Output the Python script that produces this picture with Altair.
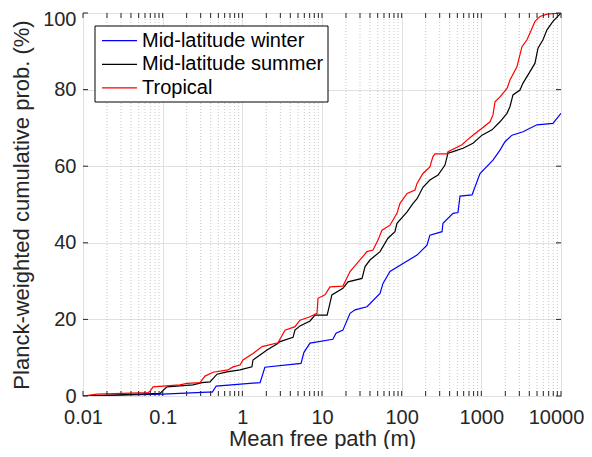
import altair as alt
import pandas as pd

series = ["Mid-latitude winter", "Mid-latitude summer", "Tropical"]
colors = ["#0000ff", "#000000", "#ff0000"]

winter_x = [0.01, 0.1, 0.37, 0.42, 0.47, 1.67, 1.92, 5.45, 5.94, 7.07, 13.7, 15.0, 18.3,
            22.5, 26.0, 36.7, 53.5, 58.3, 71.3, 104, 156, 208, 226, 321, 330, 441, 509,
            540, 764, 962, 1400, 1715, 1982, 2427, 3334, 4990, 7925, 10000]
winter_y = [0, 0.5, 1.0, 1.0, 2.6, 3.5, 7.5, 8.5, 11.4, 13.8, 14.8, 16.4, 17.2,
            21.6, 22.5, 23.3, 26.8, 29.4, 32.5, 34.6, 36.8, 39.4, 42.0, 42.9, 45.1, 47.7, 47.9,
            52.2, 52.5, 58.1, 61.6, 64.2, 66.4, 68.1, 69.0, 70.8, 71.2, 73.8]

summer_x = [0.01, 0.0926, 0.113, 0.24, 0.312, 0.393, 0.481, 0.641, 0.935, 1.32, 1.36, 1.77,
            2.04, 2.72, 2.97, 4.33, 4.58, 5.30, 7.07, 8.17, 11.6, 12.2, 13.3, 18.3, 21.2,
            31.8, 34.7, 40.0, 53.5, 67.3, 82.4, 87.3, 117, 139, 156, 185, 226, 286, 350,
            381, 441, 589, 785, 1019, 1361, 1715, 2099, 2291, 2495, 3055, 3334, 4083, 4714,
            5143, 5940, 6668, 7925, 9707, 10000]
summer_y = [0, 0.7, 2.4, 2.9, 3.5, 3.7, 5.7, 6.3, 6.8, 7.6, 9.4, 11.1,
            12.0, 13.6, 14.2, 15.3, 17.2, 18.3, 19.6, 21.1, 21.1, 23.0, 26.4, 28.1, 29.8,
            30.7, 33.8, 35.5, 37.7, 41.2, 42.9, 45.1, 48.1, 50.3, 51.5, 54.5, 56.4, 57.7, 60.3,
            63.4, 63.8, 64.7, 66.0, 68.1, 69.5, 71.6, 73.8, 75.6, 78.6, 79.9, 81.7, 84.7, 86.9,
            90.8, 93.0, 95.6, 97.8, 99.7, 100]

tropical_x = [0.01, 0.015, 0.0655, 0.0693, 0.0757, 0.165, 0.202, 0.294, 0.34, 0.429, 0.661,
              0.764, 0.935, 1.02, 1.36, 1.77, 2.80, 3.43, 4.58, 5.30, 7.07, 8.65, 8.91, 10.9,
              12.6, 18.3, 22.5, 27.5, 36.7, 43.7, 50.5, 56.6, 71.3, 87.3, 95.3, 117, 147, 156,
              185, 226, 247, 262, 371, 381, 572, 661, 785, 1019, 1285, 1400, 1484, 1715, 2099,
              2291, 2805, 3236, 3741, 4083, 4714, 5445, 6668, 10000]
tropical_y = [0, 0.5, 0.9, 1.2, 2.4, 2.9, 3.3, 3.5, 5.2, 6.2, 6.8,
              7.6, 8.1, 9.4, 11.1, 12.9, 13.9, 17.2, 18.1, 19.8, 20.7, 21.6, 25.5, 26.4,
              28.5, 28.7, 32.5, 34.6, 37.7, 38.1, 40.7, 43.3, 44.6, 47.7, 50.3, 52.9, 53.8, 55.5,
              58.1, 59.8, 62.5, 63.2, 63.2, 63.8, 65.6, 66.8, 68.1, 69.9, 71.6, 73.4, 76.8, 78.1, 80.3,
              82.5, 86.0, 91.2, 93.0, 94.8, 97.8, 99.1, 99.7, 100]

x_ticks = [0.01, 0.1, 1, 10, 100, 1000, 10000]
x_minor = [m * d for d in x_ticks[:-1] for m in range(2, 10)]
y_ticks = [0, 20, 40, 60, 80, 100]

rows = []
for name, xs, ys in zip(series, [winter_x, summer_x, tropical_x], [winter_y, summer_y, tropical_y]):
    for i, (xv, yv) in enumerate(zip(xs, ys)):
        rows.append({"path": xv, "prob": yv, "series": name, "idx": i})
df = pd.DataFrame(rows)

W, H = 478, 383
TL = 5
FONT = "Liberation Sans"
TXT = "#262626"

xscale = alt.Scale(type="log", domain=[0.01, 10000], nice=False)
yscale = alt.Scale(domain=[0, 100], nice=False, zero=False)

xaxis = alt.Axis(values=x_ticks, format="~g", title="Mean free path (m)",
                 grid=True, gridColor="#e0e0e0", labelPadding=11, titlePadding=1,
                 labelFlush=False, labelOverlap=False,
                 labelOffset={"condition": {"test": "datum.value == 10000", "value": -5}, "value": 0})
yaxis = alt.Axis(values=y_ticks, title="Planck-weighted cumulative prob. (%)",
                 grid=True, gridColor="#e0e0e0", labelPadding=7, titlePadding=9,
                 labelFlush=False, labelOverlap=False,
                 labelOffset={"condition": {"test": "datum.value == 100", "value": 6}, "value": 0})

minor_df = pd.DataFrame({"m": x_minor})
all_xt_df = pd.DataFrame({"t": x_ticks + x_minor})
yt_df = pd.DataFrame({"v": y_ticks})

minor_grid = alt.Chart(minor_df).mark_rule(color="#c8c8c8", strokeDash=[1, 2], strokeWidth=1).encode(
    x=alt.X("m:Q", scale=xscale, axis=xaxis), y=alt.value(0), y2=alt.value(H))

lines = alt.Chart(df).mark_line(strokeWidth=1.2, clip=True).encode(
    x=alt.X("path:Q", scale=xscale, axis=xaxis),
    y=alt.Y("prob:Q", scale=yscale, axis=yaxis),
    color=alt.Color("series:N", scale=alt.Scale(domain=series, range=colors),
                    sort=series, legend=None),
    order="idx:Q",
)

tick_bot = alt.Chart(all_xt_df).mark_rule(color=TXT, strokeWidth=1).encode(
    x=alt.X("t:Q", scale=xscale, axis=xaxis), y=alt.value(H), y2=alt.value(H - TL))
tick_top = alt.Chart(all_xt_df).mark_rule(color=TXT, strokeWidth=1).encode(
    x=alt.X("t:Q", scale=xscale, axis=xaxis), y=alt.value(0), y2=alt.value(TL))
tick_left = alt.Chart(yt_df).mark_rule(color=TXT, strokeWidth=1).encode(
    y=alt.Y("v:Q", scale=yscale, axis=yaxis), x=alt.value(0), x2=alt.value(TL))
tick_right = alt.Chart(yt_df).mark_rule(color=TXT, strokeWidth=1).encode(
    y=alt.Y("v:Q", scale=yscale, axis=yaxis), x=alt.value(W - TL), x2=alt.value(W))

# legend (drawn as decoration inside the plot area, top-left)
LX0, LX1, LY0, LY1 = 12, 245, 13, 89
ROW0, ROWH = 27.7, 23.6
legend_box = alt.Chart(pd.DataFrame({"k": [0]})).mark_rect(
    fill="white", stroke="black", strokeWidth=1).encode(
    x=alt.value(LX0), x2=alt.value(LX1), y=alt.value(LY0), y2=alt.value(LY1))
legend_layers = [legend_box]
for i, (name, col) in enumerate(zip(series, colors)):
    yy = ROW0 + ROWH * i
    legend_layers.append(
        alt.Chart(pd.DataFrame({"k": [0]})).mark_rule(color=col, strokeWidth=1.2).encode(
            x=alt.value(19), x2=alt.value(54), y=alt.value(yy)))
    legend_layers.append(
        alt.Chart(pd.DataFrame({"k": [0]})).mark_text(
            align="left", baseline="middle", font=FONT, fontSize=20, color="black").encode(
            x=alt.value(59), y=alt.value(yy), text=alt.value(name)))

chart = alt.layer(minor_grid, lines, tick_bot, tick_top, tick_left, tick_right,
                  *legend_layers).properties(
    width=W, height=H,
    background="white",
    autosize=alt.AutoSizeParams(type="none"),
    padding={"left": 75, "top": 5, "right": 23, "bottom": 53},
).configure_view(stroke=TXT, strokeWidth=1).configure_axis(
    labelFont=FONT, labelFontSize=20, labelColor=TXT,
    titleFont=FONT, titleFontSize=22, titleFontWeight="normal", titleColor=TXT,
    domain=False, ticks=False,
)

chart.save("out.html", embed_options={"renderer": "svg", "actions": False})
